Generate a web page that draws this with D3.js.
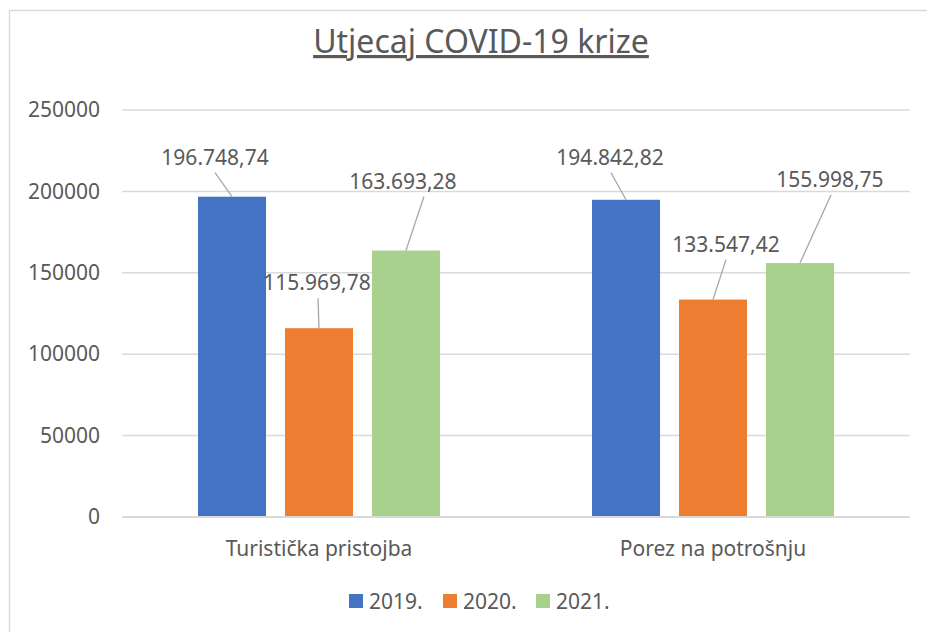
<!DOCTYPE html>
<html>
<head>
<meta charset="utf-8">
<script src="https://cdn.jsdelivr.net/npm/d3@7"></script>
<style>
  body { margin: 0; background: white; }
  text { font-family: "Noto Sans", "Open Sans", sans-serif; fill: #595959; }
</style>
</head>
<body>
<div id="vis"></div>
<script>
// chart data
const categories = ["Turistička pristojba", "Porez na potrošnju"];
const years = ["2019.", "2020.", "2021."];
const values2019 = [196748.74, 194842.82];
const values2020 = [115969.78, 133547.42];
const values2021 = [163693.28, 155998.75];
const yTicks = [0, 50000, 100000, 150000, 200000, 250000];
const colors = ["#4472c4", "#ed7d31", "#a9d18e"];

// manual label placement (dx from bar centre, dy from bar top, leader start dx)
const labelDx = [[-17, -16], [-2, 13], [-3, 30]];
const labelDy = [[-32, -35], [-38, -48], [-62, -76]];
const leaderDx = [[0, 1], [1, 0], [21, 1]];

const seriesValues = [values2019, values2020, values2021];

let width = 927;
let height = 632;
let margin = { top: 110, bottom: 115, left: 122, right: 17 };

let svg = d3.select("#vis")
  .append("svg")
  .attr("width", width)
  .attr("height", height)
  .style("background", "white");

// chart border
svg.append("rect")
  .attr("x", 9.5)
  .attr("y", 10.5)
  .attr("width", 960)
  .attr("height", 700)
  .attr("fill", "none")
  .attr("stroke", "#d9d9d9")
  .attr("stroke-width", 1.5);

// scales
let yScale = d3.scaleLinear()
  .domain([0, 250000])
  .range([height - margin.bottom, margin.top]);

let x0 = d3.scaleBand()
  .domain(categories)
  .range([margin.left, width - margin.right]);

let x1 = d3.scaleBand()
  .domain(years)
  .range([0, x0.bandwidth()])
  .paddingInner(0.218)
  .paddingOuter(0.874);

// gridlines
svg.append("g")
  .selectAll("line")
  .data(yTicks)
  .enter()
  .append("line")
  .attr("x1", margin.left)
  .attr("x2", width - margin.right)
  .attr("y1", d => yScale(d))
  .attr("y2", d => yScale(d))
  .attr("stroke", "#d9d9d9")
  .attr("stroke-width", 1.5);

// y axis labels
let yAxis = svg.append("g")
  .attr("transform", `translate(${margin.left}, 0)`)
  .call(d3.axisLeft(yScale).tickValues(yTicks).tickFormat(d => d).tickSize(0).tickPadding(22));
yAxis.select(".domain").remove();
yAxis.selectAll("text")
  .style("font-size", "21px")
  .style("font-family", "'Noto Sans', sans-serif")
  .attr("fill", "#595959");

// x axis labels
let xAxis = svg.append("g")
  .attr("transform", `translate(0, ${height - margin.bottom})`)
  .call(d3.axisBottom(x0).tickSize(0).tickPadding(24));
xAxis.select(".domain").remove();
xAxis.selectAll("text")
  .style("font-size", "21px")
  .style("font-family", "'Noto Sans', sans-serif")
  .attr("fill", "#595959");

// bars
let rows = [];
seriesValues.forEach((vals, s) => {
  vals.forEach((v, c) => {
    rows.push({ s: s, c: c, year: years[s], cat: categories[c], value: v });
  });
});

svg.append("g")
  .selectAll("rect")
  .data(rows)
  .enter()
  .append("rect")
  .attr("x", d => x0(d.cat) + x1(d.year))
  .attr("y", d => yScale(d.value))
  .attr("width", x1.bandwidth())
  .attr("height", d => yScale(0) - yScale(d.value))
  .attr("fill", d => colors[d.s]);

// baseline
svg.append("line")
  .attr("x1", margin.left)
  .attr("x2", width - margin.right)
  .attr("y1", yScale(0))
  .attr("y2", yScale(0))
  .attr("stroke", "#d9d9d9")
  .attr("stroke-width", 2);

// data labels with leader lines
let fmt = d3.formatLocale({ decimal: ",", thousands: ".", grouping: [3], currency: ["", ""] }).format(",.2f");
let cx = d => x0(d.cat) + x1(d.year) + x1.bandwidth() / 2;

svg.append("g")
  .selectAll("line")
  .data(rows)
  .enter()
  .append("line")
  .attr("x1", d => cx(d) + labelDx[d.s][d.c] + leaderDx[d.s][d.c])
  .attr("y1", d => yScale(d.value) + labelDy[d.s][d.c] + 8)
  .attr("x2", d => cx(d))
  .attr("y2", d => yScale(d.value))
  .attr("stroke", "#a6a6a6")
  .attr("stroke-width", 1.3);

svg.append("g")
  .selectAll("text")
  .data(rows)
  .enter()
  .append("text")
  .attr("x", d => cx(d) + labelDx[d.s][d.c])
  .attr("y", d => yScale(d.value) + labelDy[d.s][d.c])
  .attr("text-anchor", "middle")
  .style("font-size", "21px")
  .text(d => fmt(d.value));

// title
let title = svg.append("text")
  .attr("x", 481)
  .attr("y", 53)
  .attr("text-anchor", "middle")
  .style("font-size", "32px")
  .style("text-decoration", "underline")
  .text("Utjecaj COVID-19 krize");

// legend
let legendX = [349, 443, 536];
let legend = svg.append("g")
  .selectAll("g")
  .data(years)
  .enter()
  .append("g")
  .attr("transform", (d, i) => `translate(${legendX[i]}, 594)`);

legend.append("rect")
  .attr("width", 14)
  .attr("height", 14)
  .attr("fill", (d, i) => colors[i]);

legend.append("text")
  .attr("x", 20)
  .attr("y", 15)
  .style("font-size", "21px")
  .text(d => d);
</script>
</body>
</html>
